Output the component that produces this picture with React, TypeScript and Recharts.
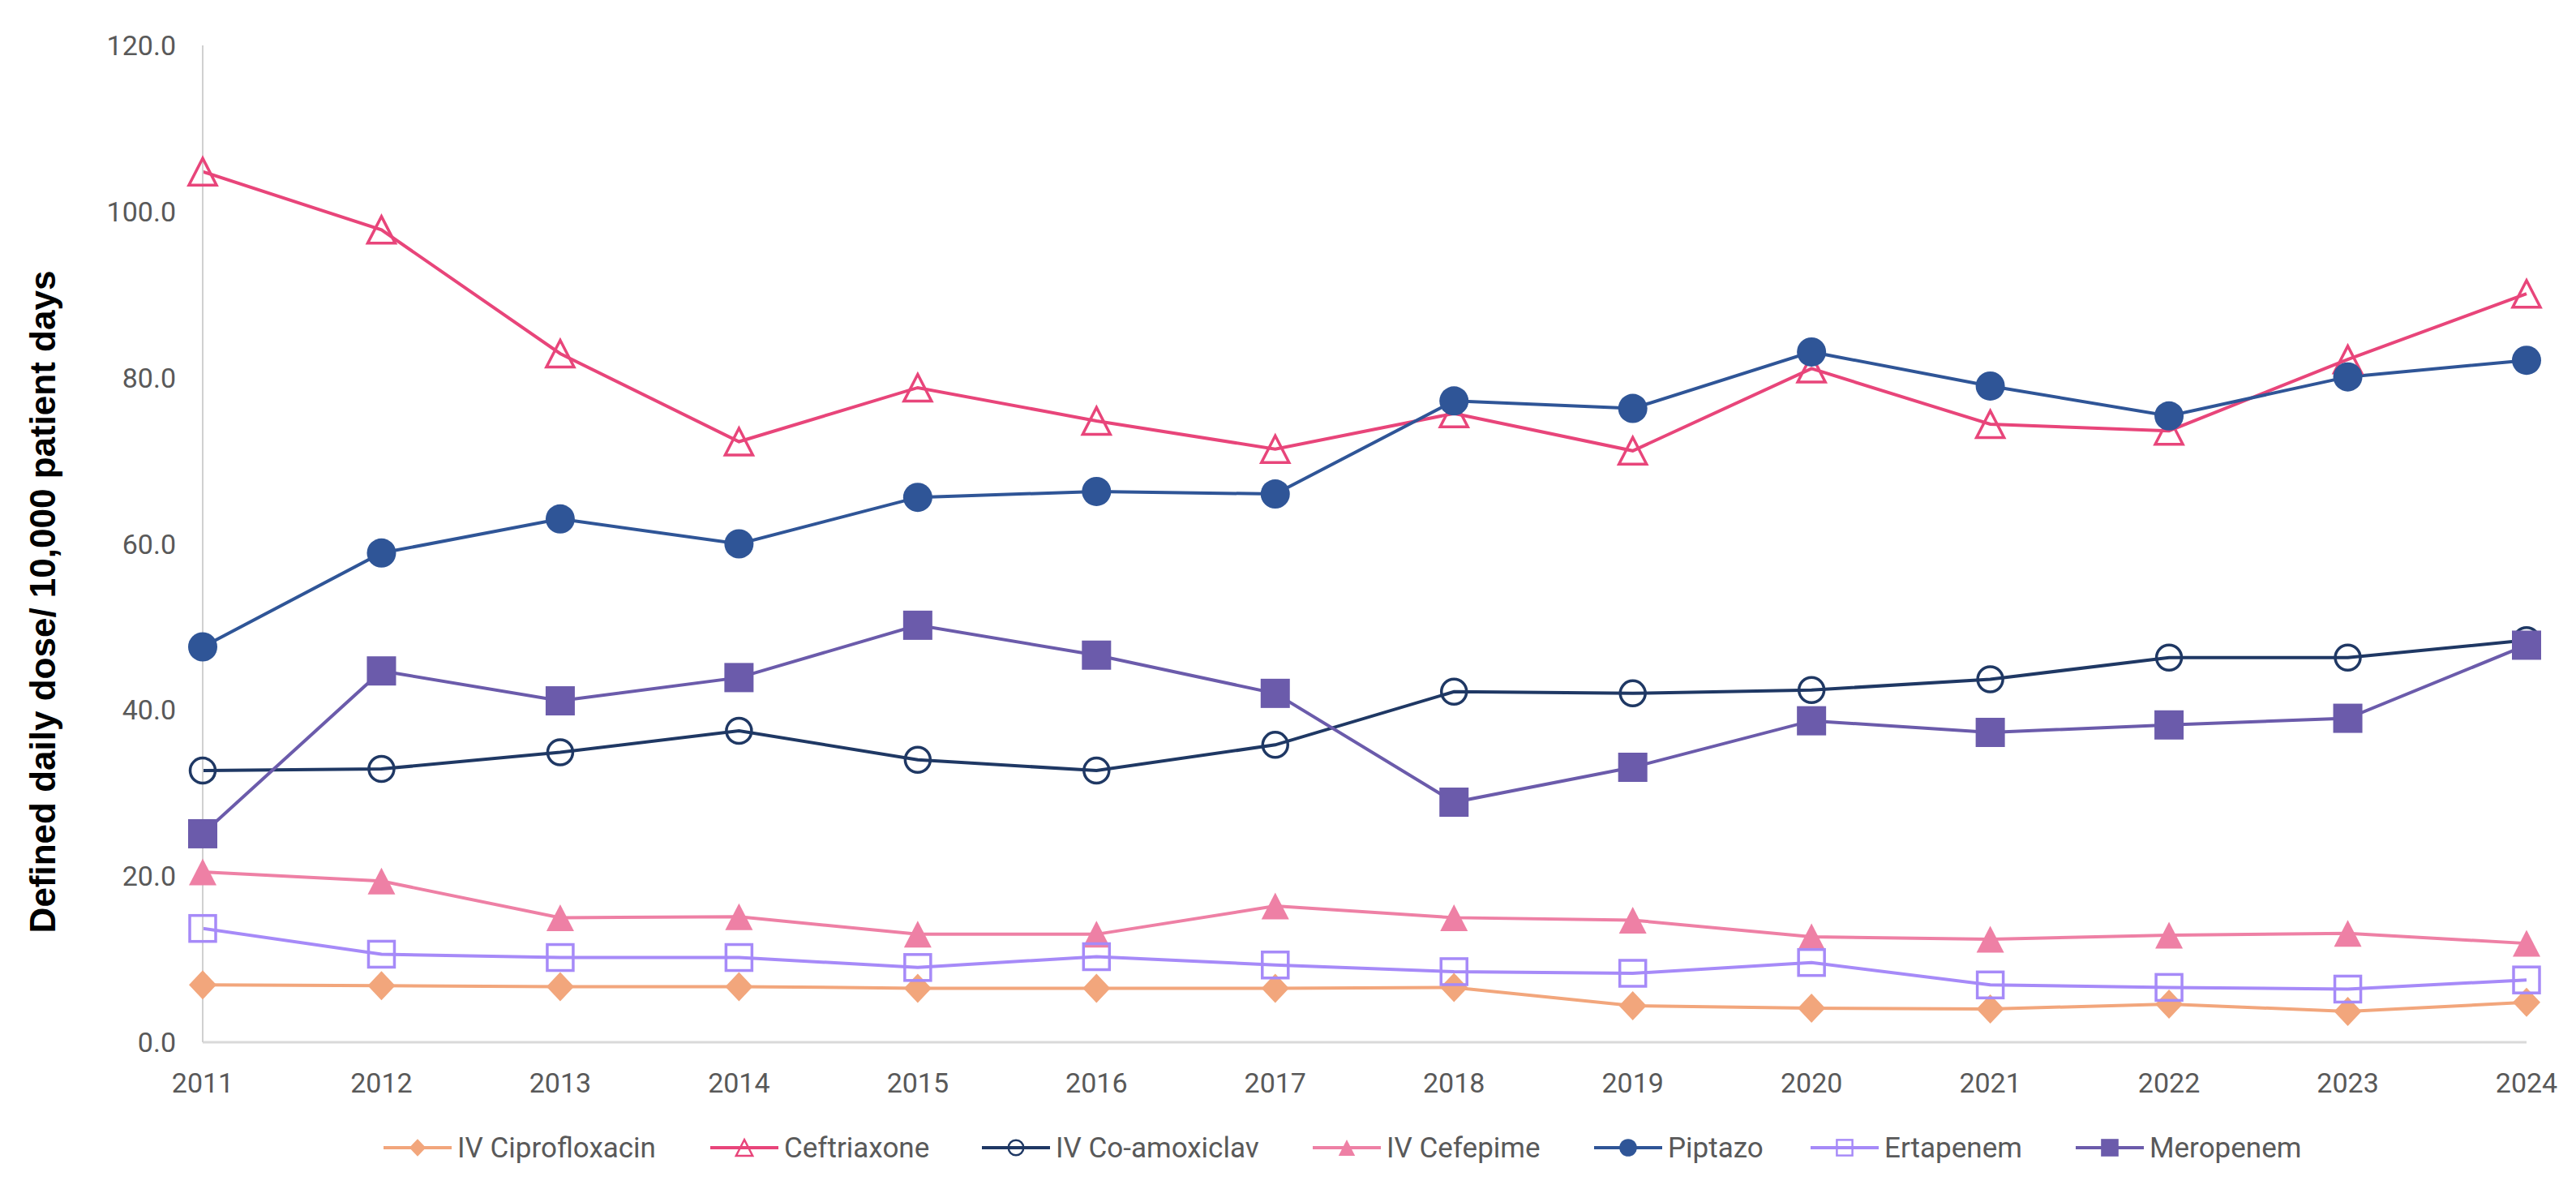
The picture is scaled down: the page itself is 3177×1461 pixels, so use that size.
import { LineChart, Line, XAxis, YAxis } from "recharts";

const years = ["2011", "2012", "2013", "2014", "2015", "2016", "2017", "2018", "2019", "2020", "2021", "2022", "2023", "2024"];

const ciprofloxacin = [6.9, 6.8, 6.7, 6.7, 6.5, 6.5, 6.5, 6.6, 4.4, 4.1, 4.0, 4.6, 3.7, 4.8];
const ceftriaxone = [104.8, 97.8, 82.9, 72.3, 78.8, 74.8, 71.4, 75.7, 71.2, 81.1, 74.4, 73.6, 82.2, 90.1];
const coAmoxiclav = [32.7, 32.9, 34.9, 37.5, 34.0, 32.7, 35.8, 42.2, 42.0, 42.4, 43.7, 46.3, 46.3, 48.4];
const cefepime = [20.5, 19.4, 15.0, 15.1, 13.0, 13.0, 16.4, 15.0, 14.7, 12.7, 12.4, 12.9, 13.1, 11.9];
const piptazo = [47.6, 58.9, 63.0, 60.0, 65.6, 66.3, 66.0, 77.2, 76.3, 83.1, 79.0, 75.4, 80.1, 82.1];
const ertapenem = [13.7, 10.6, 10.2, 10.2, 9.0, 10.3, 9.3, 8.5, 8.3, 9.6, 6.9, 6.6, 6.4, 7.5];
const meropenem = [25.1, 44.7, 41.1, 43.9, 50.2, 46.6, 42.0, 28.9, 33.1, 38.7, 37.3, 38.2, 39.0, 47.8];

const yTicks = [0, 20, 40, 60, 80, 100, 120];

const data = years.map((year, i) => ({
  year,
  cipro: ciprofloxacin[i],
  ceftri: ceftriaxone[i],
  coamox: coAmoxiclav[i],
  cefep: cefepime[i],
  pip: piptazo[i],
  erta: ertapenem[i],
  mero: meropenem[i],
}));

type Shape = "diamond" | "triOpen" | "circleOpen" | "tri" | "circle" | "squareOpen" | "square";

interface SeriesDef {
  key: string;
  name: string;
  color: string;
  shape: Shape;
}

const series: SeriesDef[] = [
  { key: "cipro", name: "IV Ciprofloxacin", color: "#F2A67C", shape: "diamond" },
  { key: "ceftri", name: "Ceftriaxone", color: "#E8457A", shape: "triOpen" },
  { key: "coamox", name: "IV Co-amoxiclav", color: "#1F3864", shape: "circleOpen" },
  { key: "cefep", name: "IV Cefepime", color: "#EE80A5", shape: "tri" },
  { key: "pip", name: "Piptazo", color: "#2F5597", shape: "circle" },
  { key: "erta", name: "Ertapenem", color: "#A68AF8", shape: "squareOpen" },
  { key: "mero", name: "Meropenem", color: "#6B5BAB", shape: "square" },
];

// left edge of each legend entry (px), as in the original layout
const legendLeft = [473, 876, 1211, 1619, 1966, 2233, 2560];

const FONT = "Roboto, 'Liberation Sans', Arial, sans-serif";

// draws one marker, s = scale factor (1 in plot, smaller in legend)
function marker(shape: Shape, cx: number, cy: number, color: string, s = 1, k?: string) {
  switch (shape) {
    case "diamond": {
      const w = 17 * s, h = 18 * s;
      return <polygon key={k} points={`${cx},${cy - h} ${cx + w},${cy} ${cx},${cy + h} ${cx - w},${cy}`} fill={color} />;
    }
    case "triOpen":
    case "tri": {
      const w = 17 * s, h = 16.5 * s;
      const open = shape === "triOpen";
      return (
        <polygon
          key={k}
          points={`${cx},${cy - h} ${cx + w},${cy + h} ${cx - w},${cy + h}`}
          fill={open ? "none" : color}
          stroke={color}
          strokeWidth={open ? 3.5 * Math.max(s, 0.7) : 0}
          strokeLinejoin="miter"
        />
      );
    }
    case "circleOpen":
      return <circle key={k} cx={cx} cy={cy} r={15.5 * s} fill="none" stroke={color} strokeWidth={3.5 * Math.max(s, 0.7)} />;
    case "circle":
      return <circle key={k} cx={cx} cy={cy} r={18 * s} fill={color} />;
    case "squareOpen": {
      const a = 16 * s;
      return <rect key={k} x={cx - a} y={cy - a} width={2 * a} height={2 * a} fill="none" stroke={color} strokeWidth={3.5 * Math.max(s, 0.7)} />;
    }
    case "square": {
      const a = 18 * s;
      return <rect key={k} x={cx - a} y={cy - a} width={2 * a} height={2 * a} fill={color} />;
    }
  }
}

const XTick = (props: any) => {
  const { x, y, payload } = props;
  return (
    <text x={x} y={y + 62} textAnchor="middle" fontSize={34} fill="#595959" fontFamily={FONT}>
      {payload.value}
    </text>
  );
};

const YTick = (props: any) => {
  const { x, y, payload } = props;
  return (
    <text x={x - 33} y={y + 12} textAnchor="end" fontSize={34} fill="#595959" fontFamily={FONT}>
      {Number(payload.value).toFixed(1)}
    </text>
  );
};

function LegendRow() {
  return (
    <div style={{ position: "absolute", left: 0, top: 1392, width: 3177, height: 46, fontFamily: FONT, fontSize: 35, color: "#595959" }}>
      {series.map((s, i) => (
        <div
          key={s.key}
          style={{ position: "absolute", left: legendLeft[i], top: 0, height: 46, display: "flex", alignItems: "center", gap: 7, whiteSpace: "nowrap" }}
        >
          <svg width={84} height={40}>
            <line x1={0} y1={20} x2={84} y2={20} stroke={s.color} strokeWidth={4} />
            {marker(s.shape, 42, 20, s.color, 0.6)}
          </svg>
          <span>{s.name}</span>
        </div>
      ))}
    </div>
  );
}

export default function App() {
  return (
    <div style={{ position: "absolute", left: 0, top: 0, width: 3177, height: 1461, background: "#fff" }}>
      <LineChart width={3177} height={1461} data={data} margin={{ top: 56, right: 61, left: 0, bottom: 0 }}>
        <XAxis
          dataKey="year"
          height={176}
          tickSize={0}
          tickMargin={0}
          tickLine={false}
          axisLine={{ stroke: "#D9D9D9", strokeWidth: 3 }}
          tick={<XTick />}
          interval={0}
          padding={{ left: 0, right: 0 }}
        />
        <YAxis
          width={250}
          domain={[0, 120]}
          ticks={yTicks}
          tickSize={0}
          tickMargin={0}
          tickLine={false}
          axisLine={{ stroke: "#D0D0D0", strokeWidth: 2 }}
          tick={<YTick />}
          label={{
            content: () => (
              <text
                x={52}
                y={742}
                transform="rotate(-90, 52, 742)"
                textAnchor="middle"
                dominantBaseline="central"
                fontSize={44}
                fontWeight="bold"
                fill="#000"
                fontFamily="'Liberation Sans', Arial, sans-serif"
              >
                Defined daily dose/ 10,000 patient days
              </text>
            ),
          }}
        />
        {series.map((s) => (
          <Line
            key={s.key}
            dataKey={s.key}
            name={s.name}
            stroke={s.color}
            strokeWidth={4}
            type="linear"
            isAnimationActive={false}
            dot={(p: any) => marker(s.shape, p.cx, p.cy, s.color, 1, `${s.key}-${p.index}`)}
            activeDot={false}
          />
        ))}
      </LineChart>
      <LegendRow />
    </div>
  );
}
